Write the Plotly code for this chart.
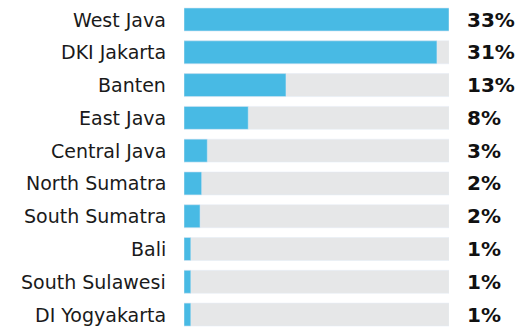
import plotly.graph_objects as go

provinces = ['West Java', 'DKI Jakarta', 'Banten', 'East Java', 'Central Java',
             'North Sumatra', 'South Sumatra', 'Bali', 'South Sulawesi', 'DI Yogyakarta']
shares = [33, 31.5, 12.7, 8.0, 2.9, 2.2, 2.0, 0.85, 0.85, 0.85]
share_labels = ['33%', '31%', '13%', '8%', '3%', '2%', '2%', '1%', '1%', '1%']
track_max = 33

BLUE = '#48BAE4'
GRAY = '#E6E7E8'

fig = go.Figure()
fig.add_trace(go.Bar(
    x=[track_max] * len(provinces), y=provinces, orientation='h',
    marker_color=GRAY, width=0.7, hoverinfo='skip'
))
fig.add_trace(go.Bar(
    x=shares, y=provinces, orientation='h',
    marker_color=BLUE, width=0.7
))

# province names on the left, percentages on the right
for p, lab in zip(provinces, share_labels):
    fig.add_annotation(x=0, xref='paper', y=p, yref='y', text=p,
                       xanchor='right', xshift=-16, showarrow=False,
                       font=dict(family='DejaVu Sans', size=19, color='#1a1a1a'))
    fig.add_annotation(x=1, xref='paper', y=p, yref='y', text='<b>' + lab + '</b>',
                       xanchor='left', xshift=16, showarrow=False,
                       font=dict(family='DejaVu Sans', size=20, color='#111111'))

fig.update_layout(
    width=518, height=329,
    barmode='overlay',
    showlegend=False,
    plot_bgcolor='white', paper_bgcolor='white',
    margin=dict(l=184, r=69, t=0, b=0),
    xaxis=dict(range=[0, track_max], visible=False),
    yaxis=dict(range=[9.44, -0.595], visible=False, type='category'),
)

fig.write_html("out.html", config={'displayModeBar': False},
               post_script="document.body.style.margin='0';")
